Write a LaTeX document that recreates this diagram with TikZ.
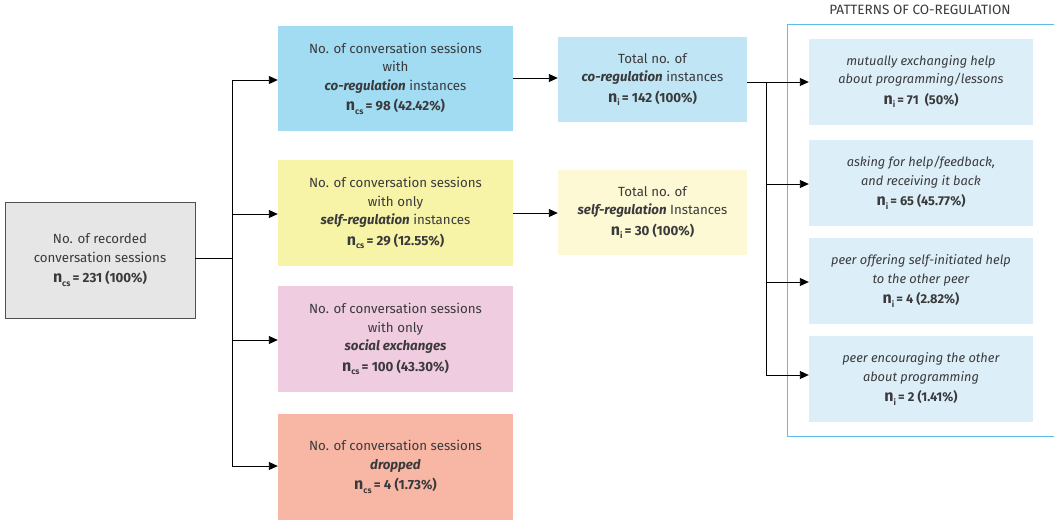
\documentclass[tikz,border=0pt]{standalone}
\usepackage{fontspec}
\setmainfont{Fira Sans}
\usetikzlibrary{arrows.meta}
\definecolor{txt}{HTML}{3A3A3C}
\definecolor{grayfill}{HTML}{E6E6E7}
\definecolor{grayline}{HTML}{505050}
\definecolor{bluefill}{HTML}{A2DCF2}
\definecolor{yellowfill}{HTML}{F7F4A8}
\definecolor{pinkfill}{HTML}{F0CCE0}
\definecolor{salmonfill}{HTML}{F8B7A5}
\definecolor{lbluefill}{HTML}{C0E6F5}
\definecolor{lyellowfill}{HTML}{FCF9D4}
\definecolor{patfill}{HTML}{DCEFF8}
\definecolor{frameblue}{HTML}{5CBDE9}
\newcommand{\nval}[2]{{\bfseries{\fontsize{16}{18}\selectfont n}\raisebox{-3.5pt}{\fontsize{8.5}{8}\selectfont #1}\,= #2}}
\newcommand{\emk}[1]{\textbf{\textit{#1}}}
\tikzset{
  box/.style={rectangle, draw=none, align=center, text=txt, font=\fontsize{13.3}{18.5}\selectfont, inner sep=0pt},
  patbox/.style={box, fill=patfill, minimum width=224pt, minimum height=86pt, font=\fontsize{12.8}{18.5}\selectfont},
  arr/.style={-{Triangle[length=9pt,width=8pt]}, line width=0.9pt, black},
  ln/.style={line width=0.9pt, black},
}
\begin{document}
\begin{tikzpicture}[x=1pt,y=-1pt]
\useasboundingbox (0,0) rectangle (1054,523);
% left box
\node[box, fill=grayfill, draw=grayline, line width=0.8pt, minimum width=190pt, minimum height=116pt] (root) at (100,260)
  {No. of recorded\\conversation sessions\\[2pt]\nval{cs}{231 (100\%)}};
% second column
\node[box, fill=bluefill, minimum width=235pt, minimum height=105pt] (co) at (395.5,78.5)
  {No. of conversation sessions\\with\\\emk{co-regulation} instances\\[2pt]\nval{cs}{98 (42.42\%)}};
\node[box, fill=yellowfill, minimum width=235pt, minimum height=106pt] (self) at (395.5,213)
  {No. of conversation sessions\\with only\\\emk{self-regulation} instances\\[2pt]\nval{cs}{29 (12.55\%)}};
\node[box, fill=pinkfill, minimum width=235pt, minimum height=106pt] (soc) at (395.5,339)
  {No. of conversation sessions\\with only\\\emk{social exchanges}\\[2pt]\nval{cs}{100 (43.30\%)}};
\node[box, fill=salmonfill, minimum width=235pt, minimum height=106pt] (drop) at (395.5,467)
  {No. of conversation sessions\\\emk{dropped}\\[2pt]\nval{cs}{4 (1.73\%)}};
% third column
\node[box, fill=lbluefill, minimum width=189pt, minimum height=85pt] (tco) at (652.5,79.5)
  {Total no. of\\\emk{co-regulation} instances\\[2pt]\nval{i}{142 (100\%)}};
\node[box, fill=lyellowfill, minimum width=189pt, minimum height=85pt] (tself) at (652.5,212.5)
  {Total no. of\\\emk{self-regulation} Instances\\[2pt]\nval{i}{30 (100\%)}};
% frame
\node[font=\fontsize{13.5}{15}\selectfont, text=txt] (title) at (920,10) {PATTERNS OF CO-REGULATION};
\draw[frameblue, line width=1pt] (1054,24) -- (787,24) -- (787,436) -- (1054,436);
\node[patbox] (p1) at (921,81.5)
  {\textit{mutually exchanging help}\\\textit{about programming/lessons}\\[2pt]\nval{i}{71~~(50\%)}};
\node[patbox] (p2) at (921,183)
  {\textit{asking for help/feedback,}\\\textit{and receiving it back}\\[2pt]\nval{i}{65 (45.77\%)}};
\node[patbox] (p3) at (921,281)
  {\textit{peer offering self-initiated help}\\\textit{to the other peer}\\[2pt]\nval{i}{4 (2.82\%)}};
\node[patbox] (p4) at (921,379)
  {\textit{peer encouraging the other}\\\textit{about programming}\\[2pt]\nval{i}{2 (1.41\%)}};
% connectors from root
\coordinate (j1) at (232,258);
\draw[ln] (root.east |- j1) -- (j1);
\draw[ln] (232,80) -- (232,466);
\draw[arr] (232,80) -- (co.west |- 0,80);
\draw[arr] (232,214) -- (self.west |- 0,214);
\draw[arr] (232,340) -- (soc.west |- 0,340);
\draw[arr] (232,466) -- (drop.west |- 0,466);
% column 2 to 3
\draw[arr] (co.east |- 0,78) -- (tco.west |- 0,78);
\draw[arr] (self.east |- 0,213) -- (tself.west |- 0,213);
% tco to patterns
\draw[ln] (tco.east |- 0,82) -- (766,82);
\draw[ln] (766,82) -- (766,375);
\draw[arr] (766,82) -- (p1.west |- 0,82);
\draw[arr] (766,184) -- (p2.west |- 0,184);
\draw[arr] (766,282) -- (p3.west |- 0,282);
\draw[arr] (766,375) -- (p4.west |- 0,375);
\end{tikzpicture}
\end{document}
